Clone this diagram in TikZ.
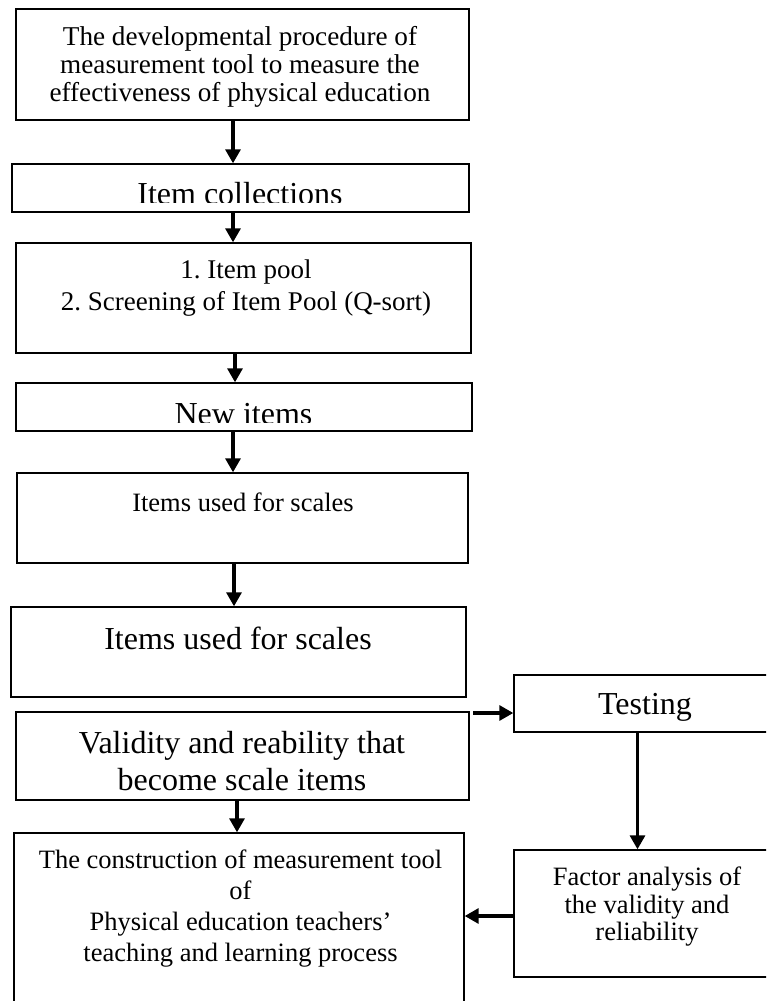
\documentclass[tikz,border=0pt]{standalone}
\usepackage{fontspec}
\setmainfont{Liberation Serif}
\usetikzlibrary{arrows.meta}
\newcommand{\fsz}[2]{\fontsize{#1}{#2}\selectfont}
\frenchspacing
\begin{document}
\frenchspacing
\begin{tikzpicture}[x=1pt,y=1pt,
  box/.style={draw=black, line width=1.4pt, inner sep=0pt, fill=none},
  txt/.style={inner sep=0pt, align=center, execute at begin node=\frenchspacing},
  arr/.style={line width=3.2pt, -{Triangle[length=14pt,width=15pt]}}]
\clip (0,0) rectangle (766,-1001);
\fill[white] (0,0) rectangle (766,-1001);
% boxes
\node[box, minimum width=453pt, minimum height=111pt] (b1) at (242.5,-64.5) {};
\node[box, minimum width=457pt, minimum height=48pt] (b2) at (240.5,-188) {};
\node[box, minimum width=455pt, minimum height=110pt] (b3) at (243.5,-298) {};
\node[box, minimum width=456pt, minimum height=48pt] (b4) at (244,-407) {};
\node[box, minimum width=451pt, minimum height=90pt] (b5) at (242.5,-518) {};
\node[box, minimum width=455pt, minimum height=90pt] (b6) at (238.5,-652) {};
\node[box, minimum width=453pt, minimum height=88pt] (b7) at (242.5,-756) {};
\node[box, minimum width=264pt, minimum height=57pt] (bt) at (646,-703.5) {};
\node[box, minimum width=266pt, minimum height=127pt] (bf) at (647,-913.5) {};
\node[box, minimum width=450pt, minimum height=184pt] (b8) at (239,-925) {};
% texts
\node[txt, font={\fsz{27.2}{28}}] (t1) at (240,-67) {The developmental procedure of\\measurement tool to measure the\\effectiveness of physical education};
\begin{scope}
\clip (0,-150) rectangle (766,-202);
\node[txt, font={\fsz{32}{36}}, anchor=base] (t2) at (240,-204) {Item collections};
\end{scope}
\node[txt, font={\fsz{27}{32}}] (t3) at (246,-288) {1. Item pool\\2. Screening of Item Pool (Q-sort)};
\begin{scope}
\clip (0,-390) rectangle (766,-422);
\node[txt, font={\fsz{32}{36}}, anchor=base] (t4) at (243.5,-424) {New items};
\end{scope}
\node[txt, font={\fsz{26.5}{30}}] (t5) at (243,-502.5) {Items used for scales};
\node[txt, font={\fsz{32}{36}}] (t6) at (238,-638) {Items used for scales};
\node[txt, font={\fsz{32}{37}}] (t7) at (242,-761) {Validity and reability that\\become scale items};
\node[txt, font={\fsz{32}{36}}] (tt) at (645,-707) {Testing};
\node[txt, font={\fsz{26.5}{27.5}}] (tf) at (647,-907) {Factor analysis of\\the validity and\\reliability};
\node[txt, font={\fsz{26.5}{31}}] (t8) at (240.5,-908.5) {The construction of measurement tool\\of\\Physical education teachers’\\teaching and learning process};
% connectors
\draw[arr] (b1.south -| 233,0) -- (b2.north -| 233,0);
\draw[arr] (b2.south -| 233,0) -- (b3.north -| 233,0);
\draw[arr] (b3.south -| 235,0) -- (b4.north -| 235,0);
\draw[arr] (b4.south -| 233,0) -- (b5.north -| 233,0);
\draw[arr] (b5.south -| 234,0) -- (b6.north -| 234,0);
\coordinate (s6) at (473,-713);
\draw[arr] (s6) -- (s6 -| bt.west);
\draw[arr] (bt.south -| 637.5,0) -- (bf.north -| 637.5,0);
\draw[arr] (bf.west |- 0,-916) -- (b8.east |- 0,-916);
\draw[arr] (b7.south -| 237,0) -- (b8.north -| 237,0);
\end{tikzpicture}
\end{document}
